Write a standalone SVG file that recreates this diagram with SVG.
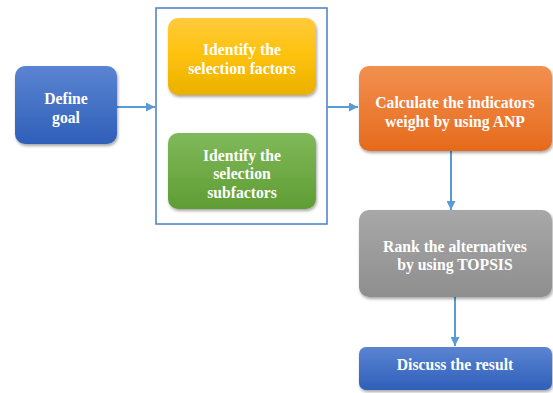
<svg xmlns="http://www.w3.org/2000/svg" width="553" height="393" viewBox="0 0 553 393">
<defs>
<linearGradient id="gBlue" x1="0" y1="0" x2="0" y2="1"><stop offset="0" stop-color="#5b84d2"/><stop offset="1" stop-color="#2f5fb9"/></linearGradient>
<linearGradient id="gYellow" x1="0" y1="0" x2="0" y2="1"><stop offset="0" stop-color="#ffcb3c"/><stop offset="0.5" stop-color="#fdc10a"/><stop offset="1" stop-color="#eab000"/></linearGradient>
<linearGradient id="gGreen" x1="0" y1="0" x2="0" y2="1"><stop offset="0" stop-color="#80b95a"/><stop offset="1" stop-color="#5f9d34"/></linearGradient>
<linearGradient id="gOrange" x1="0" y1="0" x2="0" y2="1"><stop offset="0" stop-color="#f2904f"/><stop offset="1" stop-color="#e66a1c"/></linearGradient>
<linearGradient id="gGray" x1="0" y1="0" x2="0" y2="1"><stop offset="0" stop-color="#a8a8a8"/><stop offset="1" stop-color="#8e8e8e"/></linearGradient>
<filter id="sh" x="-10%" y="-10%" width="130%" height="140%"><feDropShadow dx="1" dy="2" stdDeviation="1.5" flood-color="#000" flood-opacity="0.35"/></filter>
<marker id="ah" viewBox="0 0 10 10" refX="10" refY="5" markerWidth="9" markerHeight="9" markerUnits="userSpaceOnUse" orient="auto"><path d="M0,0 L10,5 L0,10 z" fill="#5b9bd5"/></marker>
</defs>
<style>
.box{filter:url(#sh)}
.t{font-family:"Liberation Serif","Times New Roman",serif;font-weight:bold;font-size:15.7px;fill:#fff;text-anchor:middle}
.c{stroke:#5b9bd5;stroke-width:2;fill:none;marker-end:url(#ah)}
</style>
<rect width="553" height="393" fill="#fff"/>
<g id="container"><rect x="156" y="8" width="171" height="216" fill="none" stroke="#4a7cc8" stroke-width="1.5"/></g>
<g id="connectors">
<line class="c" x1="117" y1="107" x2="155" y2="107"/>
<line class="c" x1="327" y1="107" x2="358" y2="107"/>
<line class="c" x1="451" y1="151" x2="451" y2="210"/>
<line class="c" x1="455" y1="297" x2="455" y2="346"/>
</g>
<g id="define-goal"><rect class="box" x="15" y="66" width="102" height="78" rx="10" fill="url(#gBlue)"/>
<text class="t" x="66" y="104">Define</text><text class="t" x="66" y="123">goal</text></g>
<g id="factors"><rect class="box" x="168" y="18" width="148" height="77" rx="10" fill="url(#gYellow)"/>
<text class="t" x="242" y="55">Identify the</text><text class="t" x="242" y="74">selection factors</text></g>
<g id="subfactors"><rect class="box" x="168" y="133" width="148" height="76" rx="10" fill="url(#gGreen)"/>
<text class="t" x="242" y="161">Identify the</text><text class="t" x="242" y="179">selection</text><text class="t" x="242" y="198">subfactors</text></g>
<g id="anp"><rect class="box" x="359" y="66" width="193" height="85" rx="10" fill="url(#gOrange)"/>
<text class="t" x="455" y="108">Calculate the indicators</text><text class="t" x="455" y="127">weight by using ANP</text></g>
<g id="topsis"><rect class="box" x="359" y="210" width="193" height="87" rx="10" fill="url(#gGray)"/>
<text class="t" x="455" y="252">Rank the alternatives</text><text class="t" x="455" y="270">by using TOPSIS</text></g>
<g id="discuss"><rect class="box" x="359" y="347" width="193" height="43" rx="7" fill="url(#gBlue)"/>
<text class="t" x="455" y="370">Discuss the result</text></g>
</svg>
